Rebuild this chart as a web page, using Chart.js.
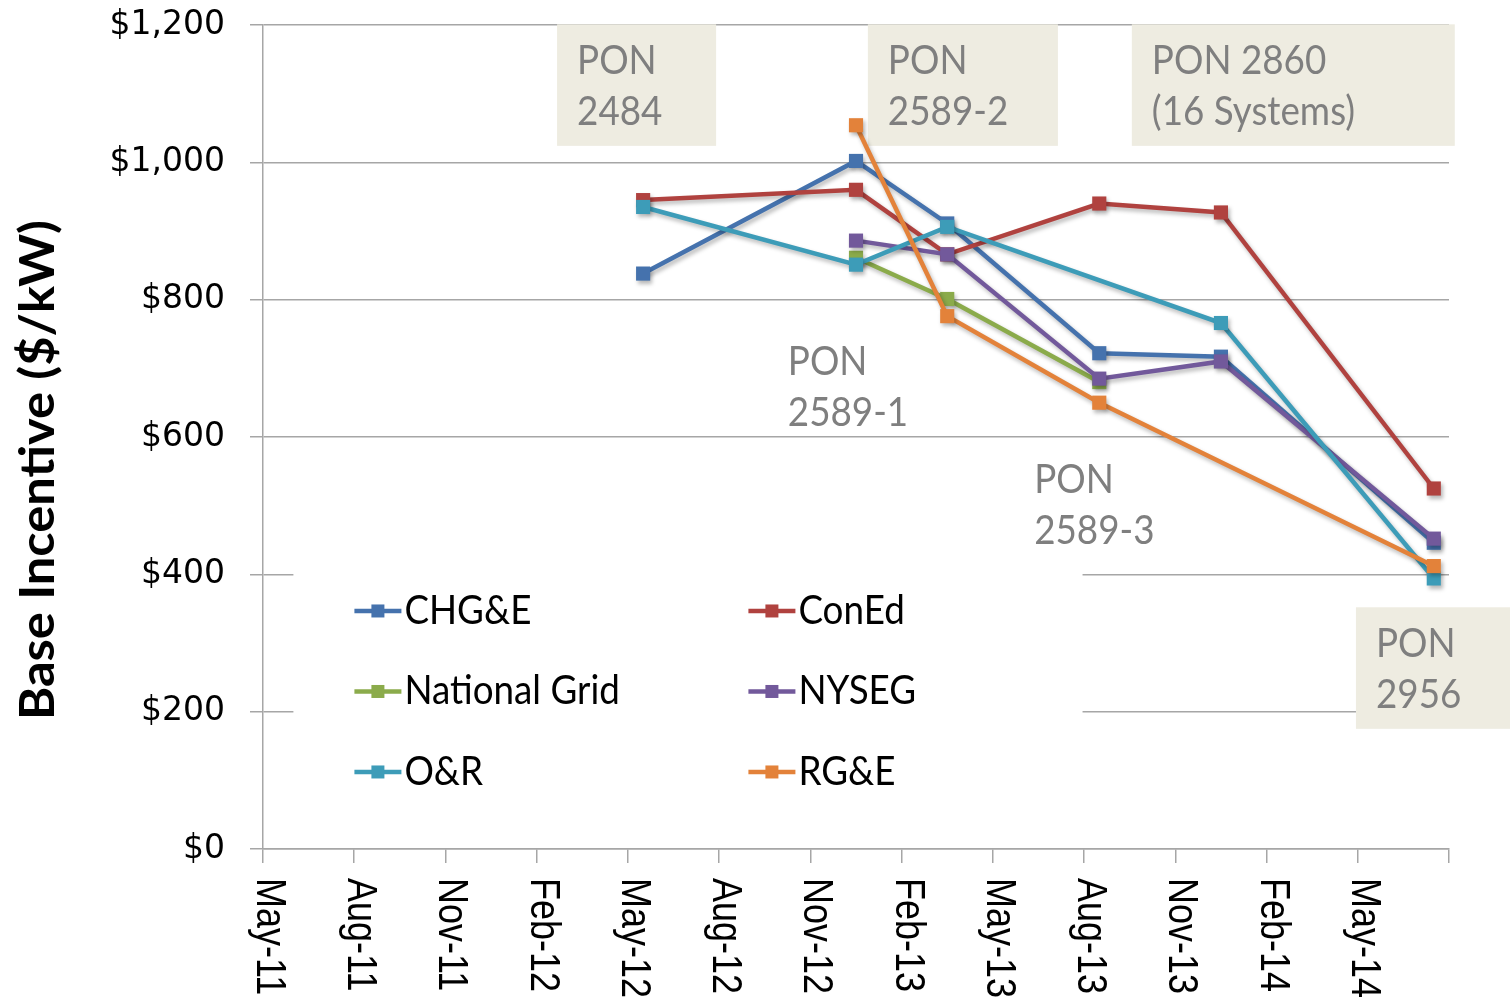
<!DOCTYPE html>
<html>
<head>
<meta charset="utf-8">
<script src="https://cdn.jsdelivr.net/npm/chart.js@4/dist/chart.umd.min.js"></script>
<style>
html,body{margin:0;padding:0;background:#fff;}
#wrap{width:1510px;height:1004px;position:relative;}
</style>
</head>
<body>
<div id="wrap"><canvas id="c" width="1510" height="1004"></canvas></div>
<script>
// ---- data ----
const tickLabels = ['May-11','Aug-11','Nov-11','Feb-12','May-12','Aug-12','Nov-12','Feb-13','May-13','Aug-13','Nov-13','Feb-14','May-14',''];
const tickMonths = [0,3,6,9,12,15,18,21,24,27,30,33,36,39]; // months since May-2011
const yTicks = [0,200,400,600,800,1000,1200];
const pointMonths = [12.5, 19.5, 22.5, 27.5, 31.5, 38.5];
const seriesNames = ['CHG&E','ConEd','National Grid','NYSEG','O&R','RG&E'];
const chge         = [838, 1002, 911, 722, 717, 446];
const coned        = [945, 960, 866, 940, 927, 525];
const nationalGrid = [null, 861, 801, 680, null, null];
const nyseg        = [null, 886, 866, 685, 710, 452];
const oandr        = [935, 851, 906, null, 766, 394];
const rge          = [null, 1054, 776, 650, null, 412];
const seriesValues = [chge, coned, nationalGrid, nyseg, oandr, rge];

const annotationTexts = [['PON','2484'],['PON','2589-2'],['PON 2860','(16 Systems)'],['PON','2956'],['PON','2589-1'],['PON','2589-3']];
const annotationX0 = [9.67, 19.89, 28.57, 35.94, 16.6, 24.7];
const annotationX1 = [14.9, 26.14, 39.19, 41.2, null, null];
const annotationYTop = [1201, 1201, 1201, 352, 763, 591];
const annotationYBottom = [1024, 1024, 1024, 175, null, null];
const legendBoxX = [1.0, 26.95];
const legendBoxY = [418, 25];
const yTitle = 'Base Incentive ($/kW)';

// ---- styles ----
const colors = ['#4572ad','#b0423f','#8bab4b','#72599b','#3d9cb8','#e3823a'];
const gapColors = [null,null,null,null,'#1a89b8','#e08a00'];
const gridColor = '#a6a6a6';

function txt(ctx, s, x, y, font, color, sx, align, baseline){
  ctx.save();
  ctx.font = font; ctx.fillStyle = color;
  ctx.textAlign = align || 'left'; ctx.textBaseline = baseline || 'middle';
  ctx.translate(x, y); ctx.scale(sx, 1);
  ctx.fillText(s, 0, 0);
  ctx.restore();
}

const decor = {
  id: 'decor',
  beforeDatasetsDraw(chart){
    const ctx = chart.ctx, xs = chart.scales.x, ys = chart.scales.y;
    ctx.save();
    ctx.fillStyle = '#ffffff';
    const lx0 = xs.getPixelForValue(legendBoxX[0]), lx1 = xs.getPixelForValue(legendBoxX[1]);
    const ly0 = ys.getPixelForValue(legendBoxY[0]), ly1 = ys.getPixelForValue(legendBoxY[1]);
    ctx.fillRect(lx0, ly0, lx1 - lx0, ly1 - ly0);
    annotationTexts.forEach((lines, i) => {
      const x0 = xs.getPixelForValue(annotationX0[i]);
      const y0 = ys.getPixelForValue(annotationYTop[i]);
      if (annotationX1[i] !== null) {
        const x1 = xs.getPixelForValue(annotationX1[i]);
        const y1 = ys.getPixelForValue(annotationYBottom[i]);
        ctx.fillStyle = '#eeece1';
        ctx.fillRect(x0, y0, x1 - x0, y1 - y0);
      }
      lines.forEach((l, k) => {
        txt(ctx, l, x0 + 20, y0 + 37 + k * 51, '40px Lato', '#7f7f7f', 0.92);
      });
    });
    ctx.restore();
  },
  beforeDatasetDraw(chart){
    const ctx = chart.ctx;
    ctx.save();
    ctx.shadowColor = 'rgba(0,0,0,0.28)';
    ctx.shadowBlur = 4;
    ctx.shadowOffsetX = 2;
    ctx.shadowOffsetY = 3;
  },
  afterDatasetDraw(chart){
    chart.ctx.restore();
  },
  afterDraw(chart){
    const ctx = chart.ctx, xs = chart.scales.x, ys = chart.scales.y, ca = chart.chartArea;
    tickMonths.forEach((m, i) => {
      const label = tickLabels[i];
      if (!label) return;
      const px = xs.getPixelForValue(m);
      ctx.save();
      ctx.translate(px - 6, ca.bottom + 29);
      ctx.rotate(Math.PI / 2);
      ctx.scale(1, 1.2);
      ctx.font = '36px "Liberation Sans"';
      ctx.fillStyle = '#000';
      ctx.textAlign = 'left';
      ctx.textBaseline = 'alphabetic';
      ctx.fillText(label, 0, 0);
      ctx.restore();
    });
    ctx.save();
    ctx.translate(54, (ca.top + ca.bottom) / 2 + 33);
    ctx.rotate(-Math.PI / 2);
    ctx.font = 'bold 47px Lato';
    ctx.fillStyle = '#000';
    ctx.textAlign = 'center';
    ctx.textBaseline = 'alphabetic';
    const w = ctx.measureText(yTitle).width;
    ctx.scale(500 / w, 1);
    ctx.fillText(yTitle, 0, 0);
    ctx.restore();
    const lx = xs.getPixelForValue(legendBoxX[0]) + 61;
    const ly = ys.getPixelForValue(legendBoxY[0]) + 49;
    chart.data.datasets.forEach((ds, i) => {
      const col = i % 2, row = Math.floor(i / 2);
      const x = lx + col * 394, y = ly + row * 80.5;
      ctx.save();
      ctx.strokeStyle = ds.borderColor; ctx.lineWidth = 4.5;
      ctx.beginPath(); ctx.moveTo(x, y); ctx.lineTo(x + 47, y); ctx.stroke();
      ctx.fillStyle = ds.backgroundColor;
      ctx.fillRect(x + 23.5 - 6.5, y - 6.5, 13, 13);
      ctx.restore();
      txt(ctx, ds.label, x + 50, y, '40px Lato', '#000', 0.92);
    });
  }
};

const n = seriesNames.length;
const datasets = seriesValues.map((vals, i) => ({
  label: seriesNames[i],
  data: pointMonths.map((m, j) => ({x: m, y: vals[j]})),
  borderColor: colors[i],
  backgroundColor: colors[i],
  borderWidth: 4.5,
  pointStyle: 'rect',
  pointRadius: 10,
  pointHoverRadius: 10,
  pointBorderWidth: 0,
  spanGaps: true,
  tension: 0,
  order: n - i,
  segment: {
    borderColor: c => (c.p1DataIndex - c.p0DataIndex > 1 && gapColors[i]) ? gapColors[i] : undefined,
    borderWidth: c => (c.p1DataIndex - c.p0DataIndex > 1 && gapColors[i]) ? 3.5 : undefined
  }
}));

new Chart(document.getElementById('c'), {
  type: 'line',
  data: { datasets },
  plugins: [decor],
  options: {
    responsive: false,
    animation: false,
    devicePixelRatio: 1,
    layout: { padding: { top: 25, right: 61, left: 0, bottom: 0 } },
    plugins: { legend: { display: false }, tooltip: { enabled: false } },
    events: [],
    scales: {
      x: {
        type: 'linear', min: 0, max: 39,
        afterBuildTicks: s => { s.ticks = tickMonths.map(v => ({value: v})); },
        ticks: { display: false },
        grid: { drawOnChartArea: false, drawTicks: true, tickLength: 14, color: gridColor, lineWidth: 1.5 },
        border: { color: gridColor, width: 1.5 },
        afterFit: s => { s.height = 155; s.paddingLeft = 0; s.paddingRight = 0; }
      },
      y: {
        min: 0, max: 1200,
        afterBuildTicks: s => { s.ticks = yTicks.map(v => ({value: v})); },
        ticks: {
          callback: v => '$' + Number(v).toLocaleString('en-US'),
          font: { family: 'DejaVu Sans', size: 33 },
          color: '#000',
          padding: 25
        },
        grid: { color: gridColor, lineWidth: 1.5, tickLength: 13 },
        border: { color: gridColor, width: 1.5 },
        afterFit: s => { s.width = 263; s.paddingTop = 0; s.paddingBottom = 0; }
      }
    }
  }
});
</script>
</body>
</html>
